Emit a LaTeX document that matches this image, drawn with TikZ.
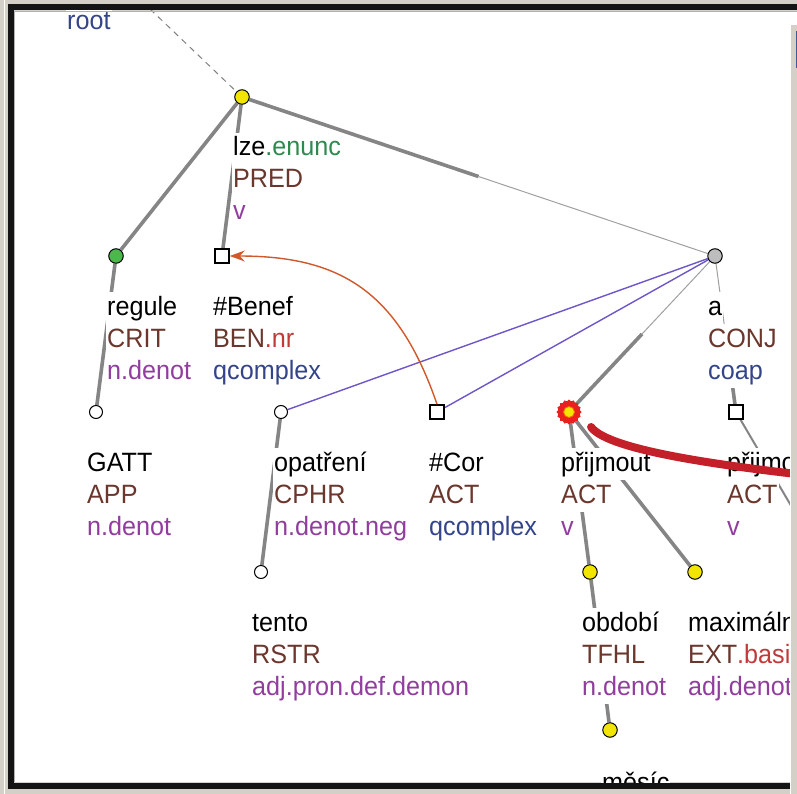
\documentclass[tikz,border=0pt]{standalone}
\usepackage{fontspec}
\setmainfont{Liberation Sans}[FakeStretch=0.95]
\usetikzlibrary{calc,arrows.meta,shapes.geometric}
\definecolor{winbg}{HTML}{D4D0C8}
\definecolor{edgegray}{HTML}{858585}
\definecolor{thingray}{HTML}{A0A0A0}
\definecolor{coordpurple}{HTML}{6F55C8}
\definecolor{corefor}{HTML}{D0582A}
\definecolor{funccol}{HTML}{6B372D}
\definecolor{redcol}{HTML}{C03A3A}
\definecolor{semcol}{HTML}{913D9E}
\definecolor{bluecol}{HTML}{34448A}
\definecolor{greencol}{HTML}{2F8A4F}
\definecolor{nodeyellow}{HTML}{F2E600}
\definecolor{nodegreen}{HTML}{4CB84C}
\definecolor{nodegray}{HTML}{BDBDBD}
\definecolor{ptrred}{HTML}{C4202A}
\definecolor{halored}{HTML}{E82020}
\definecolor{scrollblue}{HTML}{3D5A94}
\pgfdeclarelayer{back}
\pgfdeclarelayer{edges}
\pgfsetlayers{back,edges,main}
\newcommand\lblfont{\fontsize{26.5}{32}\selectfont}
\newcommand\tlab[6]{%
  \node[lab] (#1-a) at (#2,#3) {#4};
  \node[lab,text=funccol] (#1-b) at (#2,#3+32) {#5};
  \node[lab,text=semcol] (#1-c) at (#2,#3+64) {#6};}
\begin{document}
\begin{tikzpicture}[x=1pt,y=-1pt,
  ynode/.style={circle, draw=black, line width=1pt, fill=nodeyellow, minimum size=14.5pt, inner sep=0pt},
  gnode/.style={ynode, fill=nodegreen},
  anode/.style={ynode, fill=nodegray},
  wcirc/.style={ynode, fill=white, minimum size=13pt},
  sqnode/.style={rectangle, draw=black, line width=1.6pt, fill=white, minimum size=14pt, inner sep=0pt},
  lab/.style={anchor=base west, fill=white, inner xsep=1pt, inner ysep=0pt, text height=23pt, text depth=9pt, font=\lblfont, text=black},
  thickedge/.style={draw=edgegray, line width=3.6pt},
  thinedge/.style={draw=thingray, line width=1pt},
  purpedge/.style={draw=coordpurple, line width=1.4pt},
  dashedge/.style={draw=gray, line width=1pt, dash pattern=on 6pt off 5pt},
  coref/.style={draw=corefor, line width=1.4pt, -{Stealth[length=15pt,width=11pt,inset=5pt]}},
  pointer/.style={draw=ptrred, line width=8pt, line cap=round}]
\useasboundingbox (0,0) rectangle (797,794);
\begin{pgfonlayer}{back}
  \fill[winbg] (0,0) rectangle (797,794);
  \fill[white] (14,11) rectangle (797,782);
\end{pgfonlayer}

\begin{scope}
\clip (14,11) rectangle (797,782);
% tree nodes
\node[ynode] (lze) at (242,97) {};
\node[gnode] (regule) at (116,256) {};
\node[sqnode] (benef) at (222,256) {};
\node[anode] (a) at (715,256) {};
\node[wcirc] (gatt) at (96,412) {};
\node[wcirc] (opat) at (281,412) {};
\node[sqnode] (cor) at (437,412) {};
\node[star, star points=16, star point ratio=1.15, fill=halored, minimum size=25pt, inner sep=0pt] (halo) at (569,412) {};
\node[circle, fill=nodeyellow, draw=orange!80!red, line width=0.8pt, minimum size=11pt, inner sep=0pt] (prij) at (569,412) {};
\node[sqnode] (prijb) at (736,412) {};
\node[wcirc] (tento) at (261,572) {};
\node[ynode] (obdobi) at (590,572) {};
\node[ynode] (maxim) at (695,572) {};
\node[ynode] (mesic) at (610,730) {};
\coordinate (rootpt) at (150,9);
\coordinate (offchild) at (830,572);
% labels
\node[lab,text=bluecol] (rootlbl) at (66,30) {root};
\tlab{lzel}{232}{156}{lze\textcolor{greencol}{.enunc}}{PRED}{v}
\tlab{regl}{106}{315}{regule}{CRIT}{n.denot}
\tlab{benl}{212}{315}{\#Benef}{BEN\textcolor{redcol}{.nr}}{\textcolor{bluecol}{qcomplex}}
\tlab{al}{707}{315}{a}{CONJ}{\textcolor{bluecol}{coap}}
\tlab{gattl}{86}{471}{GATT}{APP}{n.denot}
\tlab{opatl}{273}{471}{opatření}{CPHR}{n.denot.neg}
\tlab{corl}{428}{471}{\#Cor}{ACT}{\textcolor{bluecol}{qcomplex}}
\tlab{prijl}{560}{471}{přijmout}{ACT}{v}
\tlab{prijbl}{726}{471}{přijmout}{ACT}{v}
\tlab{tentol}{251}{631}{tento}{RSTR}{adj.pron.def.demon}
\tlab{obdl}{581}{631}{období}{TFHL}{n.denot}
\tlab{maxl}{687}{631}{maximální}{EXT\textcolor{redcol}{.basic}}{adj.denot}
\node[lab] (mesicl) at (601,791) {měsíc};
\end{scope}

\begin{pgfonlayer}{edges}
\begin{scope}
\clip (14,11) rectangle (797,782);
\coordinate (mLA) at ($(lze)!0.5!(a)$);
\coordinate (mAP) at ($(a)!0.5!(prij)$);
\coordinate (mAQ) at ($(a)!0.5!(prijb)$);
\draw[dashedge] (rootpt) -- (lze);
\draw[thickedge] (lze) -- (regule);
\draw[thickedge] (lze) -- (benef);
\draw[thickedge] (lze) -- (mLA);
\draw[thinedge] (mLA) -- (a);
\draw[thickedge] (regule) -- (gatt);
\draw[purpedge] (a) -- (opat);
\draw[purpedge] (a) -- (cor);
\draw[thinedge] (a) -- (mAP);
\draw[thickedge] (mAP) -- (prij);
\draw[thinedge] (a) -- (mAQ);
\draw[thickedge] (mAQ) -- (prijb);
\draw[thickedge] (opat) -- (tento);
\draw[thickedge] (prij) -- (obdobi);
\draw[thickedge] (prij) -- (maxim);
\draw[thickedge] (obdobi) -- (mesic);
\draw[draw=edgegray, line width=2pt] (prijb) -- (offchild);
\end{scope}
\end{pgfonlayer}

\begin{scope}
\clip (14,11) rectangle (797,782);
\draw[coref] (cor.north) .. controls (398,291) and (340,256) .. (benef.east);
\coordinate (ptrstart) at (591,427);
\coordinate (ptrend) at (805,475);
\draw[pointer] (ptrstart) .. controls (606,447) and (690,462) .. (ptrend);
\end{scope}

% window frame
\fill[black!92] (8,4) rectangle (797,10.5);
\fill[black!92] (8,4) rectangle (13.5,789);
\fill[black!92] (8,782.5) rectangle (790,789);
\draw[gray!60, line width=1pt] (14,11.5) -- (797,11.5);
\draw[gray!60, line width=1pt] (14,11) -- (14,782);
\draw[white, line width=1pt] (4,0) -- (4,794);
\fill[winbg] (790,24) rectangle (797,794);
\draw[white, line width=1pt] (790.5,24) -- (790.5,794);
\draw[white, line width=1pt] (790,24.5) -- (797,24.5);
\fill[scrollblue] (795.5,31) rectangle (797,68);
\end{tikzpicture}
\end{document}
